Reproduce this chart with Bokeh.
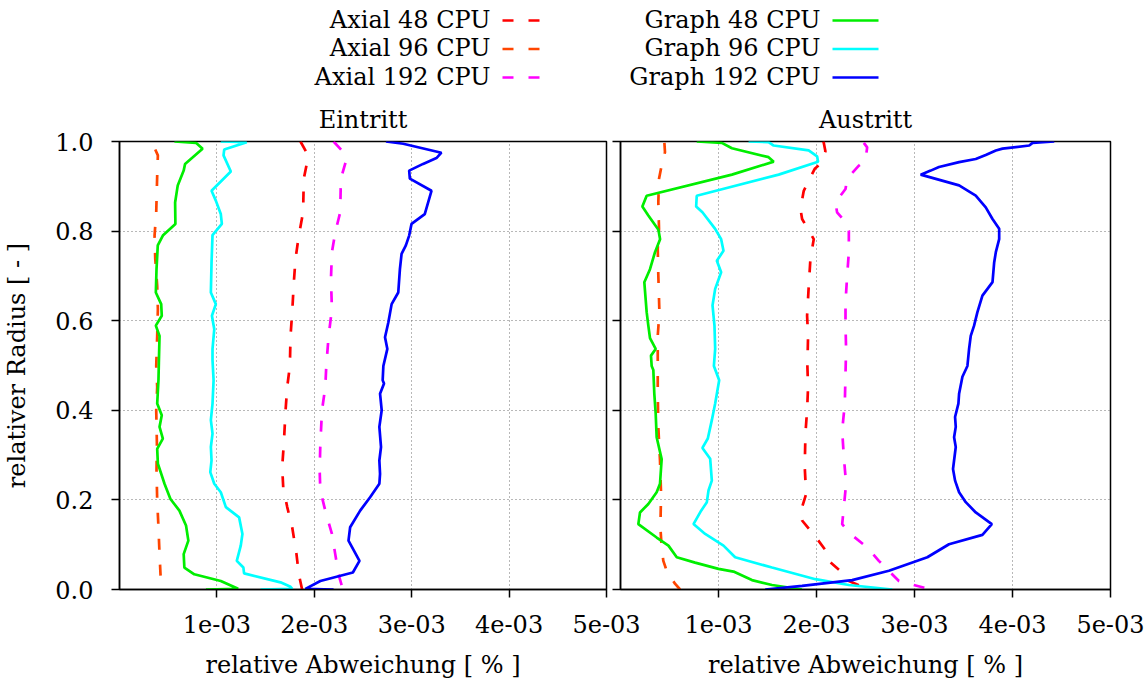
import numpy as np
from bokeh.plotting import figure
from bokeh.layouts import column, row
from bokeh.models import Range1d, FixedTicker
from bokeh.embed import file_html
from bokeh.resources import INLINE
from bokeh.core.properties import value

FONT = "'DejaVu Serif'"
FS = "24px"

series_names = ["Axial 48 CPU", "Axial 96 CPU", "Axial 192 CPU",
                "Graph 48 CPU", "Graph 96 CPU", "Graph 192 CPU"]
series_colors = ["#ff0000", "#ff4500", "#ff00ff", "#00ee00", "#00ffff", "#0000ff"]
series_dash = ["11 15", "11 15", "11 15", "solid", "solid", "solid"]

panel_titles = ["Eintritt", "Austritt"]
x_ticks = [0.001, 0.002, 0.003, 0.004, 0.005]
x_tick_labels = ["1e-03", "2e-03", "3e-03", "4e-03", "5e-03"]
y_ticks = [0.0, 0.2, 0.4, 0.6, 0.8, 1.0]
y_tick_labels = ["0.0", "0.2", "0.4", "0.6", "0.8", "1.0"]
x_label = "relative Abweichung [ % ]"
y_label = "relativer Radius [ - ]"

# ---------------- data (x in units of 1e-03, r = relative radius) ----------------
ein_axial48_x = [1.858, 1.919, 1.933, 1.892, 1.885, 1.841, 1.807, 1.790, 1.773, 1.756, 1.749,
                 1.722, 1.705, 1.687, 1.670, 1.681, 1.722, 1.773, 1.817, 1.841, 1.875]
ein_axial48_r = [1.0, 0.976, 0.961, 0.917, 0.842, 0.790, 0.738, 0.686, 0.619, 0.566, 0.499,
                 0.452, 0.400, 0.325, 0.273, 0.228, 0.184, 0.139, 0.079, 0.034, 0.0]
ein_axial96_x = [0.367, 0.394, 0.387, 0.377, 0.360, 0.367, 0.387, 0.394, 0.387, 0.377,
                 0.387, 0.377, 0.384, 0.380, 0.387, 0.400, 0.411, 0.421, 0.428]
ein_axial96_r = [0.982, 0.969, 0.924, 0.842, 0.790, 0.738, 0.678, 0.626, 0.566, 0.499,
                 0.452, 0.400, 0.325, 0.266, 0.199, 0.139, 0.079, 0.034, 0.0]
ein_axial192_x = [2.198, 2.317, 2.327, 2.273, 2.266, 2.215, 2.181, 2.171, 2.181, 2.147, 2.123,
                  2.113, 2.079, 2.062, 2.055, 2.062, 2.113, 2.181, 2.215, 2.249, 2.293]
ein_axial192_r = [1.0, 0.972, 0.958, 0.917, 0.842, 0.797, 0.753, 0.693, 0.626, 0.566, 0.499,
                  0.452, 0.400, 0.325, 0.266, 0.221, 0.176, 0.124, 0.079, 0.034, 0.0]
ein_graph48_x = [0.564, 0.785, 0.853, 0.673, 0.659, 0.598, 0.571, 0.574, 0.445, 0.393, 0.380,
                 0.373, 0.428, 0.434, 0.373, 0.411, 0.404, 0.400, 0.387, 0.434, 0.411, 0.445,
                 0.387, 0.394, 0.462, 0.523, 0.615, 0.683, 0.707, 0.659, 0.666, 0.768, 1.040,
                 1.218, 0.887]
ein_graph48_r = [1.0, 0.997, 0.984, 0.950, 0.935, 0.902, 0.864, 0.816, 0.790, 0.768, 0.715,
                 0.663, 0.637, 0.611, 0.589, 0.566, 0.505, 0.467, 0.415, 0.389, 0.363, 0.337,
                 0.314, 0.281, 0.236, 0.202, 0.176, 0.143, 0.109, 0.079, 0.049, 0.034, 0.019,
                 0.0015, 0.0]
ein_graph96_x = [1.040, 1.306, 1.075, 1.068, 1.143, 0.945, 0.989, 1.040, 1.051, 0.955, 0.945,
                 0.938, 0.989, 0.949, 0.973, 0.955, 0.955, 0.966, 0.955, 0.938, 0.955, 0.938,
                 0.945, 0.932, 0.973, 1.040, 1.092, 1.228, 1.262, 1.245, 1.204, 1.272, 1.279,
                 1.653, 1.756, 1.773, 1.449]
ein_graph96_r = [1.0, 0.9985, 0.982, 0.969, 0.933, 0.890, 0.868, 0.838, 0.816, 0.791, 0.730,
                 0.663, 0.637, 0.611, 0.581, 0.537, 0.512, 0.467, 0.415, 0.378, 0.348, 0.318,
                 0.288, 0.262, 0.236, 0.217, 0.184, 0.161, 0.124, 0.098, 0.064, 0.049, 0.036,
                 0.016, 0.006, 0.0015, 0.0]
ein_graph192_x = [2.736, 2.913, 3.305, 3.254, 3.117, 2.974, 2.981, 3.203, 3.134, 2.998, 2.974,
                  2.940, 2.896, 2.879, 2.862, 2.794, 2.760, 2.726, 2.750, 2.709, 2.702, 2.716,
                  2.675, 2.692, 2.668, 2.685, 2.668, 2.675, 2.668, 2.573, 2.471, 2.368, 2.351,
                  2.464, 2.396, 2.062, 1.909, 2.198]
ein_graph192_r = [1.0, 0.995, 0.975, 0.963, 0.950, 0.935, 0.917, 0.890, 0.838, 0.816, 0.790,
                  0.768, 0.749, 0.715, 0.663, 0.637, 0.596, 0.563, 0.537, 0.499, 0.467, 0.460,
                  0.437, 0.400, 0.363, 0.318, 0.288, 0.258, 0.236, 0.206, 0.176, 0.139, 0.109,
                  0.064, 0.038, 0.019, 0.0015, 0.0]

aus_axial48_x = [2.070, 2.074, 2.091, 2.030, 1.982, 1.870, 1.836, 1.853, 1.972, 1.938, 1.921,
                 1.904, 1.914, 1.907, 1.914, 1.904, 1.887, 1.880, 1.894, 1.836, 1.853, 2.006,
                 2.108, 2.125, 2.262, 2.330, 2.534]
aus_axial48_r = [1.0, 0.997, 0.978, 0.948, 0.939, 0.890, 0.850, 0.827, 0.782, 0.738, 0.678,
                 0.611, 0.566, 0.499, 0.452, 0.400, 0.348, 0.273, 0.213, 0.172, 0.154, 0.113,
                 0.083, 0.064, 0.038, 0.019, 0.0]
aus_axial96_x = [0.448, 0.454, 0.427, 0.393, 0.386, 0.393, 0.380, 0.386, 0.397, 0.380, 0.380,
                 0.380, 0.386, 0.403, 0.414, 0.407, 0.420, 0.437, 0.471, 0.556, 0.608]
aus_axial96_r = [0.997, 0.976, 0.954, 0.917, 0.864, 0.805, 0.760, 0.701, 0.619, 0.566, 0.499,
                 0.437, 0.363, 0.288, 0.213, 0.139, 0.094, 0.064, 0.042, 0.013, 0.0]
aus_axial192_x = [2.483, 2.517, 2.500, 2.432, 2.313, 2.296, 2.193, 2.210, 2.296, 2.330, 2.330,
                  2.313, 2.296, 2.296, 2.302, 2.296, 2.289, 2.262, 2.279, 2.302, 2.279, 2.262,
                  2.347, 2.517, 2.636, 2.841, 3.165]
aus_axial192_r = [0.997, 0.987, 0.958, 0.946, 0.917, 0.894, 0.864, 0.842, 0.820, 0.801, 0.753,
                  0.701, 0.641, 0.589, 0.537, 0.482, 0.415, 0.355, 0.296, 0.236, 0.184, 0.146,
                  0.124, 0.094, 0.064, 0.019, 0.0]
aus_graph48_x = [0.778, 1.034, 1.137, 1.511, 1.563, 1.137, 0.267, 0.223, 0.284, 0.387, 0.404,
                 0.352, 0.301, 0.243, 0.267, 0.284, 0.301, 0.359, 0.311, 0.318, 0.335, 0.345,
                 0.359, 0.369, 0.420, 0.403, 0.369, 0.284, 0.199, 0.182, 0.369, 0.489, 0.574,
                 0.761, 1.000, 1.153, 1.341, 1.546, 1.716, 1.852]
aus_graph48_r = [1.0, 0.997, 0.985, 0.965, 0.955, 0.926, 0.879, 0.855, 0.835, 0.803, 0.782,
                 0.753, 0.715, 0.686, 0.619, 0.589, 0.561, 0.537, 0.522, 0.499, 0.490, 0.437,
                 0.393, 0.340, 0.291, 0.236, 0.217, 0.191, 0.172, 0.146, 0.116, 0.098, 0.072,
                 0.060, 0.046, 0.040, 0.021, 0.010, 0.0045, 0.0]
aus_graph96_x = [1.307, 1.511, 1.563, 1.920, 2.006, 2.016, 1.614, 0.778, 0.772, 0.836, 0.966,
                 1.027, 1.051, 0.983, 1.027, 0.966, 0.939, 0.959, 0.966, 0.953, 1.007, 0.966,
                 0.932, 0.891, 0.836, 0.915, 0.932, 0.898, 0.881, 0.823, 0.745, 0.864, 1.051,
                 1.170, 1.546, 1.989, 2.330, 2.773]
aus_graph96_r = [1.0, 0.9985, 0.991, 0.980, 0.967, 0.955, 0.926, 0.879, 0.855, 0.842, 0.805,
                 0.782, 0.756, 0.734, 0.708, 0.671, 0.634, 0.589, 0.537, 0.499, 0.467, 0.415,
                 0.378, 0.337, 0.316, 0.292, 0.243, 0.221, 0.195, 0.176, 0.146, 0.124, 0.098,
                 0.072, 0.049, 0.023, 0.010, 0.0]
aus_graph192_x = [4.426, 4.205, 4.171, 3.898, 3.830, 3.727, 3.625, 3.455, 3.250, 3.165, 3.063,
                  3.455, 3.625, 3.727, 3.796, 3.864, 3.864, 3.830, 3.813, 3.796, 3.693, 3.642,
                  3.608, 3.574, 3.557, 3.540, 3.489, 3.455, 3.448, 3.414, 3.421, 3.404, 3.421,
                  3.393, 3.414, 3.455, 3.523, 3.625, 3.789, 3.693, 3.352, 3.131, 2.739, 2.364,
                  1.853, 1.477]
aus_graph192_r = [1.0, 0.997, 0.991, 0.984, 0.980, 0.970, 0.961, 0.954, 0.943, 0.935, 0.926,
                  0.902, 0.879, 0.853, 0.827, 0.805, 0.782, 0.753, 0.730, 0.686, 0.656, 0.619,
                  0.589, 0.566, 0.537, 0.499, 0.475, 0.437, 0.415, 0.385, 0.363, 0.340, 0.318,
                  0.269, 0.243, 0.217, 0.195, 0.172, 0.146, 0.122, 0.101, 0.072, 0.042, 0.021,
                  0.008, 0.0]

panel_data = [
    [(ein_axial48_x, ein_axial48_r), (ein_axial96_x, ein_axial96_r), (ein_axial192_x, ein_axial192_r),
     (ein_graph48_x, ein_graph48_r), (ein_graph96_x, ein_graph96_r), (ein_graph192_x, ein_graph192_r)],
    [(aus_axial48_x, aus_axial48_r), (aus_axial96_x, aus_axial96_r), (aus_axial192_x, aus_axial192_r),
     (aus_graph48_x, aus_graph48_r), (aus_graph96_x, aus_graph96_r), (aus_graph192_x, aus_graph192_r)],
]
X_UNIT = 1e-3

# ---------------- layout constants ----------------
LEG_H = 96
FRAME_W, FRAME_H = 490, 448
B_TOP, B_BOT = 45, 95
P_H = B_TOP + FRAME_H + B_BOT
P1_LEFT, P1_RIGHT = 116, 35
P2_LEFT, P2_RIGHT = 14, 34
OVERLAP = P1_RIGHT
TOTAL_W = 1144


def style_text(obj, prefix):
    setattr(obj, prefix + "_font", FONT)
    setattr(obj, prefix + "_font_size", FS)
    setattr(obj, prefix + "_font_style", "normal")
    setattr(obj, prefix + "_color", "black")


def make_panel(idx):
    left = idx == 0
    p = figure(width=(P1_LEFT + FRAME_W + P1_RIGHT) if left else (P2_LEFT + FRAME_W + P2_RIGHT),
               height=P_H,
               x_range=Range1d(0, 0.005), y_range=Range1d(0, 1),
               output_backend="svg", toolbar_location=None,
               min_border_left=P1_LEFT if left else P2_LEFT,
               min_border_right=P1_RIGHT if left else P2_RIGHT,
               min_border_top=B_TOP, min_border_bottom=B_BOT)
    p.title.text = panel_titles[idx]
    p.title.align = "center"
    p.title.standoff = 15
    style_text(p.title, "text")

    p.outline_line_color = "black"
    p.outline_line_width = 1.5
    if not left:
        p.border_fill_color = None

    for ax in (p.xaxis[0], p.yaxis[0]):
        ax.axis_line_color = "black"
        ax.axis_line_width = 1.5
        ax.major_tick_line_color = "black"
        ax.major_tick_line_width = 1.5
        ax.major_tick_in = 0
        ax.major_tick_out = 8
        ax.minor_tick_line_color = None
        style_text(ax, "major_label_text")
        style_text(ax, "axis_label_text")

    xa = p.xaxis[0]
    xa.ticker = FixedTicker(ticks=x_ticks)
    xa.major_label_overrides = dict(zip(x_ticks, x_tick_labels))
    xa.major_label_standoff = 17
    xa.axis_label = x_label
    xa.axis_label_standoff = 15

    ya = p.yaxis[0]
    ya.ticker = FixedTicker(ticks=y_ticks)
    if left:
        ya.major_label_overrides = dict(zip(y_ticks, y_tick_labels))
        ya.major_label_standoff = 18
        ya.axis_label = y_label
        ya.axis_label_standoff = 21
    else:
        ya.major_label_overrides = {t: "" for t in y_ticks}
        ya.major_label_standoff = 0

    for g, t in ((p.xgrid[0], x_ticks), (p.ygrid[0], y_ticks)):
        g.ticker = FixedTicker(ticks=t)
        g.grid_line_color = "#707070"
        g.grid_line_dash = "1 3"
        g.grid_line_width = 1

    for (xs, rs), col, dash in zip(panel_data[idx], series_colors, series_dash):
        p.line(np.array(xs) * X_UNIT, np.array(rs), line_color=col, line_width=2.7,
               line_dash=dash)
    return p


p1 = make_panel(0)
p2 = make_panel(1)
p2.styles = {"margin-left": f"-{OVERLAP}px"}

# ---------------- legend ----------------
leg = figure(width=TOTAL_W, height=LEG_H, x_range=Range1d(0, TOTAL_W), y_range=Range1d(LEG_H, 0),
             output_backend="svg", toolbar_location=None, min_border=0)
leg.axis.visible = False
leg.grid.visible = False
leg.outline_line_color = None

col_text_right = [490, 820]
sample_gap, sample_len = 12, 46
row_y0, row_dy = 19, 28.5
for i, (name, col, dash) in enumerate(zip(series_names, series_colors, series_dash)):
    c, r = divmod(i, 3)
    yy = row_y0 + r * row_dy
    xr = col_text_right[c]
    leg.text(x=[xr], y=[yy], text=[name], text_align="right", text_baseline="middle",
             text_font=value(FONT), text_font_size=value(FS), text_color="black")
    leg.line([xr + sample_gap, xr + sample_gap + sample_len], [yy + 1, yy + 1],
             line_color=col, line_width=2.7, line_dash=dash)

layout = column(leg, row(p1, p2))
open("out.html", "w").write(file_html(layout, INLINE))
